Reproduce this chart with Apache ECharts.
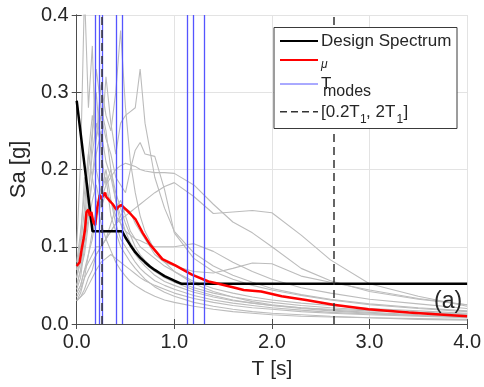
<!DOCTYPE html>
<html><head><meta charset="utf-8">
<script src="https://cdn.jsdelivr.net/npm/echarts@6/dist/echarts.min.js"></script>
<style>html,body{margin:0;padding:0;background:#fff}#c{width:484px;height:387px}</style>
</head><body><div id="c"></div>
<script>
// Periods shared by the individual record spectra (s)
const periods = [0, 0.04, 0.08, 0.12, 0.16, 0.2, 0.25, 0.3, 0.35, 0.4, 0.45, 0.5, 0.55, 0.6, 0.65, 0.7, 0.8, 0.9, 1.0, 1.2, 1.4, 1.6, 1.8, 2.0, 2.3, 2.6, 3.0, 3.5, 4.0];
// Individual record spectra Sa [g] (grey)
const rec01 = [.10,.21,.43,.28,.36,.20,.17,.19,.14,.12,.10,.09,.08,.072,.065,.058,.048,.041,.036,.028,.023,.019,.016,.014,.012,.010,.008,.006,.005];
const rec02 = [.07,.10,.15,.22,.27,.24,.31,.27,.25,.30,.38,.28,.21,.17,.14,.12,.095,.08,.068,.052,.042,.035,.029,.025,.021,.018,.015,.012,.010];
const rec03 = [.06,.08,.12,.17,.22,.26,.23,.32,.26,.22,.26,.27,.275,.28,.33,.26,.19,.15,.12,.092,.075,.063,.054,.046,.038,.032,.026,.021,.017];
const rec04 = [.05,.07,.11,.15,.19,.24,.27,.24,.22,.19,.18,.17,.20,.225,.235,.22,.217,.174,.118,.085,.068,.058,.05,.044,.037,.031,.025,.02,.016];
const rec05 = [.04,.05,.07,.09,.11,.14,.16,.18,.19,.20,.205,.208,.206,.204,.20,.198,.196,.196,.195,.18,.155,.132,.118,.10,.072,.056,.042,.032,.025];
const rec06 = [.04,.05,.07,.08,.09,.10,.10,.11,.12,.13,.135,.14,.145,.15,.155,.16,.17,.178,.183,.165,.143,.145,.147,.144,.115,.083,.052,.036,.023];
const rec07 = [.035,.045,.06,.07,.08,.09,.10,.11,.12,.13,.14,.15,.145,.13,.12,.11,.09,.08,.075,.068,.066,.072,.079,.078,.062,.054,.044,.033,.025];
const rec08 = [.05,.07,.09,.13,.16,.18,.15,.17,.16,.14,.13,.12,.115,.11,.108,.105,.10,.10,.10,.104,.094,.08,.068,.058,.047,.04,.032,.026,.02];
const rec09 = [.045,.06,.10,.14,.19,.22,.25,.21,.19,.16,.14,.12,.105,.095,.085,.078,.068,.06,.054,.044,.037,.031,.027,.024,.02,.017,.014,.011,.009];
const rec10 = [.03,.04,.06,.09,.12,.15,.17,.20,.16,.13,.11,.10,.09,.08,.072,.066,.056,.05,.045,.037,.031,.027,.024,.021,.018,.015,.013,.011,.009];
const rec11 = [.08,.12,.17,.22,.19,.16,.13,.11,.095,.08,.07,.062,.055,.05,.046,.042,.036,.031,.028,.023,.019,.016,.014,.012,.010,.009,.008,.007,.006];
const rec12 = [.03,.035,.045,.06,.07,.09,.10,.11,.13,.15,.16,.14,.12,.11,.10,.095,.085,.075,.068,.055,.046,.04,.035,.031,.027,.024,.02,.017,.014];
const rec13 = [.03,.035,.04,.05,.06,.07,.08,.085,.09,.085,.08,.075,.07,.065,.06,.056,.05,.045,.04,.033,.028,.024,.021,.019,.016,.014,.012,.01,.008];
const rec14 = [.06,.09,.13,.20,.25,.30,.22,.18,.20,.17,.15,.13,.115,.10,.09,.082,.07,.062,.056,.047,.04,.035,.031,.028,.024,.021,.018,.015,.013];
const rec15 = [.07,.11,.19,.16,.24,.33,.28,.25,.20,.16,.13,.11,.10,.09,.082,.075,.063,.055,.05,.041,.035,.03,.027,.024,.021,.019,.017,.015,.012];
const records = [rec01, rec02, rec03, rec04, rec05, rec06, rec07, rec08, rec09, rec10, rec11, rec12, rec13, rec14, rec15];

// Mean spectrum (red)
const meanT  = [0, 0.03, 0.05, 0.07, 0.085, 0.10, 0.12, 0.135, 0.15, 0.17, 0.19, 0.21, 0.237, 0.25, 0.27, 0.29, 0.30, 0.32, 0.34, 0.37, 0.405, 0.43, 0.456, 0.49, 0.54, 0.605, 0.676, 0.75, 0.878, 1.01, 1.18, 1.35, 1.42, 1.62, 1.71, 1.89, 2.1, 2.35, 2.63, 2.99, 3.4, 4.0];
const meanSa = [0.075, 0.08, 0.096, 0.11, 0.122, 0.145, 0.148, 0.14, 0.145, 0.132, 0.128, 0.15, 0.167, 0.162, 0.164, 0.17, 0.165, 0.163, 0.159, 0.155, 0.148, 0.152, 0.154, 0.150, 0.144, 0.135, 0.118, 0.103, 0.084, 0.076, 0.064, 0.055, 0.053, 0.047, 0.044, 0.042, 0.036, 0.031, 0.025, 0.019, 0.015, 0.010];

// Design spectrum (black)
const designT  = [0, 0.162, 0.466, 0.5, 0.55, 0.6, 0.65, 0.7, 0.75, 0.8, 0.85, 0.9, 0.95, 1.0, 1.075, 4.0];
const designSa = [0.289, 0.12, 0.12, 0.112, 0.102, 0.093, 0.086, 0.080, 0.0745, 0.070, 0.066, 0.062, 0.059, 0.056, 0.052, 0.052];

// Modal periods (blue) and period range [0.2T1, 2T1] (dashed)
const modePeriods = [0.193, 0.230, 0.258, 0.405, 0.466, 1.132, 1.19, 1.315];
const rangeBounds = [0.263, 2.63];

const xTickLabels = ['0.0', '1.0', '2.0', '3.0', '4.0'];
const yTickLabels = ['0.0', '0.1', '0.2', '0.3', '0.4'];
const seriesNames = ['Design Spectrum', 'μ', 'T_modes', '[0.2T1, 2T1]'];

const FONT = 'Liberation Sans, Arial, Helvetica, sans-serif';
const TXT = '#262626';
const pair = (xs, ys) => xs.map((x, i) => [x, ys[i]]);

const series = [];
records.forEach((r, k) => {
  series.push({
    name: 'record ' + (k + 1), type: 'line', data: pair(periods, r),
    symbol: 'none', silent: true, z: 2,
    lineStyle: { color: '#bcbcbc', width: 1.1 }
  });
});
series.push({
  name: seriesNames[0], type: 'line', data: pair(designT, designSa),
  symbol: 'none', z: 3, lineStyle: { color: '#000', width: 2.5 }
});
series.push({
  name: seriesNames[1], type: 'line', data: pair(meanT, meanSa),
  symbol: 'none', z: 4, lineStyle: { color: '#ff0000', width: 2.5 }
});
series.push({
  name: seriesNames[2], type: 'line', data: [], z: 5,
  markLine: {
    silent: true, symbol: ['none', 'none'], label: { show: false },
    lineStyle: { color: '#5555ff', width: 1.3, type: 'solid' },
    data: modePeriods.map(t => ({ xAxis: t }))
  }
});
series.push({
  name: seriesNames[3], type: 'line', data: [], z: 6,
  markLine: {
    silent: true, symbol: ['none', 'none'], label: { show: false },
    lineStyle: { color: '#333', width: 1.5, type: [8, 5] },
    data: rangeBounds.map(t => ({ xAxis: t }))
  }
});

const lx1 = 280, lx2 = 318, tx = 321;
const graphic = [
  { type: 'rect', z: 100, shape: { x: 274, y: 27.5, width: 183, height: 101 },
    style: { fill: '#fff', stroke: '#3a3a3a', lineWidth: 1 } },
  { type: 'line', z: 101, shape: { x1: lx1, y1: 41, x2: lx2, y2: 41 }, style: { stroke: '#000', lineWidth: 2 } },
  { type: 'text', z: 101, style: { text: seriesNames[0], x: tx, y: 41.5, fontSize: 17, fontFamily: FONT, fill: TXT, verticalAlign: 'middle' } },
  { type: 'line', z: 101, shape: { x1: lx1, y1: 60, x2: lx2, y2: 60 }, style: { stroke: '#ff0000', lineWidth: 2 } },
  { type: 'text', z: 101, style: { text: 'μ', x: tx, y: 65, fontSize: 12, fontStyle: 'italic', fontFamily: FONT, fill: TXT, verticalAlign: 'middle' } },
  { type: 'line', z: 101, shape: { x1: lx1, y1: 84, x2: lx2, y2: 84 }, style: { stroke: '#5555ff', lineWidth: 1 } },
  { type: 'text', z: 101, style: { text: 'T', x: tx, y: 84, fontSize: 17, fontFamily: FONT, fill: TXT, verticalAlign: 'middle' } },
  { type: 'text', z: 101, style: { text: 'modes', x: 323, y: 92, fontSize: 16, fontFamily: FONT, fill: TXT, verticalAlign: 'middle' } },
  { type: 'line', z: 101, shape: { x1: lx1, y1: 111.7, x2: lx2, y2: 111.7 }, style: { stroke: '#333', lineWidth: 1.5, lineDash: [7, 4] } },
  { type: 'text', z: 101, style: { text: '[0.2T', x: tx, y: 112, fontSize: 17, fontFamily: FONT, fill: TXT, verticalAlign: 'middle' } },
  { type: 'text', z: 101, style: { text: '1', x: 360, y: 120, fontSize: 12, fontFamily: FONT, fill: TXT, verticalAlign: 'middle' } },
  { type: 'text', z: 101, style: { text: ', 2T', x: 366, y: 112, fontSize: 17, fontFamily: FONT, fill: TXT, verticalAlign: 'middle' } },
  { type: 'text', z: 101, style: { text: '1', x: 396.5, y: 120, fontSize: 12, fontFamily: FONT, fill: TXT, verticalAlign: 'middle' } },
  { type: 'text', z: 101, style: { text: ']', x: 403.5, y: 112, fontSize: 17, fontFamily: FONT, fill: TXT, verticalAlign: 'middle' } },
  { type: 'text', z: 101, style: { text: '(a)', x: 434, y: 302, fontSize: 23, fontFamily: FONT, fill: TXT, verticalAlign: 'middle' } }
];

const axisLineStyle = { color: '#4d4d4d', width: 1 };
const chart = echarts.init(document.getElementById('c'), null, { renderer: 'canvas' });
chart.setOption({
  animation: false,
  backgroundColor: '#fff',
  grid: { left: 73, right: 15, top: 15, bottom: 63 },
  xAxis: [
    { type: 'value', min: 0, max: 4, interval: 1, name: 'T [s]', nameLocation: 'middle', nameGap: 35,
      nameTextStyle: { fontSize: 21, fontFamily: FONT, color: TXT },
      axisLine: { show: true, onZero: false, lineStyle: axisLineStyle },
      axisTick: { show: true, inside: true, length: 5, lineStyle: axisLineStyle },
      axisLabel: { fontSize: 20, fontFamily: FONT, color: TXT, margin: 8, formatter: v => xTickLabels[Math.round(v)] },
      splitLine: { show: true, lineStyle: { color: '#e3e3e3', width: 1 } } },
    { type: 'value', position: 'top', min: 0, max: 4, interval: 1,
      axisLine: { show: true, lineStyle: axisLineStyle },
      axisTick: { show: true, inside: true, length: 5, lineStyle: axisLineStyle },
      axisLabel: { show: false }, splitLine: { show: false } }
  ],
  yAxis: [
    { type: 'value', min: 0, max: 0.4, interval: 0.1, name: 'Sa [g]', nameLocation: 'middle', nameGap: 44,
      nameTextStyle: { fontSize: 22, fontFamily: FONT, color: TXT },
      axisLine: { show: true, onZero: false, lineStyle: axisLineStyle },
      axisTick: { show: true, inside: true, length: 5, lineStyle: axisLineStyle },
      axisLabel: { fontSize: 20, fontFamily: FONT, color: TXT, margin: 8, formatter: v => yTickLabels[Math.round(v * 10)] },
      splitLine: { show: true, lineStyle: { color: '#e3e3e3', width: 1 } } },
    { type: 'value', position: 'right', min: 0, max: 0.4, interval: 0.1,
      axisLine: { show: true, lineStyle: axisLineStyle },
      axisTick: { show: true, inside: true, length: 5, lineStyle: axisLineStyle },
      axisLabel: { show: false }, splitLine: { show: false } }
  ],
  series: series,
  graphic: graphic
});
</script>
</body></html>
